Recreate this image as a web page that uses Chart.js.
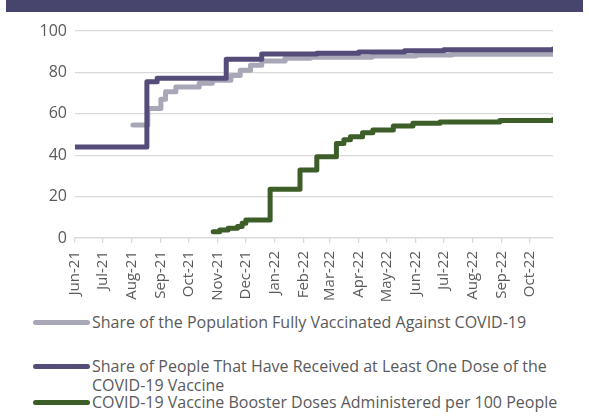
<!DOCTYPE html>
<html>
<head>
<meta charset="utf-8">
<script src="https://cdn.jsdelivr.net/npm/chart.js@4.4.1/dist/chart.umd.min.js"></script>
<style>
  body { margin: 0; background: #fff; width: 589px; height: 416px; position: relative; overflow: hidden; font-family: "Open Sans", sans-serif; }
  .band { position: absolute; left: 6px; top: 0; width: 577px; height: 12px; background: #47456d; }
  .wrap { position: absolute; left: 0; top: 0; width: 589px; height: 310px; }
  .legend-item { position: absolute; left: 33px; color: #595959; font-size: 16px; line-height: 19px; }
  .legend-item .swatch { position: absolute; left: 0; top: 7px; width: 57px; height: 5px; border-radius: 3px; }
  .legend-item .label { margin-left: 59px; white-space: nowrap; }
</style>
</head>
<body>
<div class="band"></div>
<div class="wrap"><canvas id="vaxChart"></canvas></div>
<div id="legend"></div>

<script>
// ================================
// Data
// ================================
const startDate = '2021-06-01';
const monthStarts = ['2021-06-01', '2021-07-01', '2021-08-01', '2021-09-01', '2021-10-01', '2021-11-01',
    '2021-12-01', '2022-01-01', '2022-02-01', '2022-03-01', '2022-04-01', '2022-05-01',
    '2022-06-01', '2022-07-01', '2022-08-01', '2022-09-01', '2022-10-01'];
const monthLabels = ['Jun-21', 'Jul-21', 'Aug-21', 'Sep-21', 'Oct-21', 'Nov-21', 'Dec-21', 'Jan-22',
    'Feb-22', 'Mar-22', 'Apr-22', 'May-22', 'Jun-22', 'Jul-22', 'Aug-22', 'Sep-22', 'Oct-22'];
const endDate = '2022-10-26';
const yTicks = [0, 20, 40, 60, 80, 100];

const seriesNames = [
    'Share of the Population Fully Vaccinated Against COVID-19',
    'Share of People That Have Received at Least One Dose of the COVID-19 Vaccine',
    'COVID-19 Vaccine Booster Doses Administered per 100 People'
];

const fullyDates = ['2021-08-02', '2021-08-18', '2021-09-01', '2021-09-06', '2021-09-17', '2021-10-12',
    '2021-10-26', '2021-11-15', '2021-11-25', '2021-12-06', '2021-12-18', '2022-01-12', '2022-02-08',
    '2022-04-15', '2022-06-01', '2022-07-10', '2022-10-26'];
const fullyValues = [54.6, 62.6, 67, 70.7, 73, 74.7, 76.2, 78.5, 81, 83.5, 85.5, 86.8, 87.3,
    87.9, 88.4, 88.8, 89.2];

const oneDoseDates = ['2021-06-01', '2021-08-17', '2021-08-28', '2021-11-10', '2021-12-18', '2022-02-15',
    '2022-04-01', '2022-05-20', '2022-07-01', '2022-10-26'];
const oneDoseValues = [44, 75.5, 77.2, 86.3, 88.9, 89.3, 89.9, 90.5, 91.0, 91.3];

const boosterDates = ['2021-10-27', '2021-11-03', '2021-11-12', '2021-11-22', '2021-11-27', '2021-12-01',
    '2021-12-27', '2022-01-28', '2022-02-15', '2022-03-08', '2022-03-16', '2022-03-23', '2022-04-05',
    '2022-04-16', '2022-05-08', '2022-05-29', '2022-06-27', '2022-08-30', '2022-10-26'];
const boosterValues = [3.0, 3.9, 4.7, 5.5, 7.1, 8.7, 23.5, 32.9, 39.3, 45.7, 47.5, 48.9, 50.8,
    52.2, 54.1, 55.4, 56.0, 56.8, 57.3];

const colors = ['#a8a7b8', '#564c79', '#3d5e28'];

// ================================
// Helpers
// ================================
function dayIndex(d) {
    return (Date.parse(d) - Date.parse(startDate)) / 86400000;
}

function points(dates, values) {
    return dates.map((d, i) => ({ x: dayIndex(d), y: values[i] }));
}

const monthDays = monthStarts.map(dayIndex);

// ================================
// Chart
// ================================
function lineSet(i, data, order) {
    return {
        label: seriesNames[i],
        data: data,
        borderColor: colors[i],
        backgroundColor: colors[i],
        borderWidth: 5,
        pointRadius: 0,
        stepped: true,
        borderCapStyle: 'round',
        borderJoinStyle: 'round',
        order: order
    };
}

new Chart(document.getElementById('vaxChart'), {
    type: 'line',
    data: {
        datasets: [
            lineSet(0, points(fullyDates, fullyValues), 1),
            lineSet(1, points(oneDoseDates, oneDoseValues), 0),
            lineSet(2, points(boosterDates, boosterValues), 2)
        ]
    },
    options: {
        responsive: true,
        maintainAspectRatio: false,
        animation: false,
        layout: { padding: { top: 31, right: 36, left: 0, bottom: 0 } },
        plugins: { legend: { display: false }, tooltip: { enabled: false } },
        scales: {
            x: {
                type: 'linear',
                min: 0,
                max: dayIndex(endDate),
                afterBuildTicks: (scale) => {
                    scale.ticks = monthDays.map(v => ({ value: v }));
                },
                afterFit: (scale) => { scale.height = 72; },
                ticks: {
                    autoSkip: false,
                    minRotation: 90,
                    maxRotation: 90,
                    padding: 8,
                    color: '#595959',
                    font: { family: 'Open Sans', size: 15 },
                    callback: (value, index) => monthLabels[index]
                },
                grid: {
                    drawOnChartArea: false,
                    drawTicks: true,
                    tickLength: 5,
                    color: '#d9d9d9',
                    lineWidth: 1.3
                },
                border: { display: true, color: '#d9d9d9', width: 1.3 }
            },
            y: {
                min: 0,
                max: 100,
                afterBuildTicks: (scale) => {
                    scale.ticks = yTicks.map(v => ({ value: v }));
                },
                afterFit: (scale) => { scale.width = 75; },
                ticks: {
                    padding: 8,
                    color: '#595959',
                    font: { family: 'Open Sans', size: 16 }
                },
                grid: { color: '#d9d9d9', lineWidth: 1.3, drawTicks: false },
                border: { display: false }
            }
        }
    }
});

// ================================
// Legend (HTML)
// ================================
const legendRows = [
    { top: 313, text: seriesNames[0] },
    { top: 357, text: 'Share of People That Have Received at Least One Dose of the<br>COVID-19 Vaccine' },
    { top: 393, text: seriesNames[2] }
];
const legend = document.getElementById('legend');
legendRows.forEach((row, i) => {
    const item = document.createElement('div');
    item.className = 'legend-item';
    item.style.top = row.top + 'px';
    item.innerHTML = `<span class="swatch" style="background:${colors[i]}"></span><div class="label">${row.text}</div>`;
    legend.appendChild(item);
});
</script>
</body>
</html>
